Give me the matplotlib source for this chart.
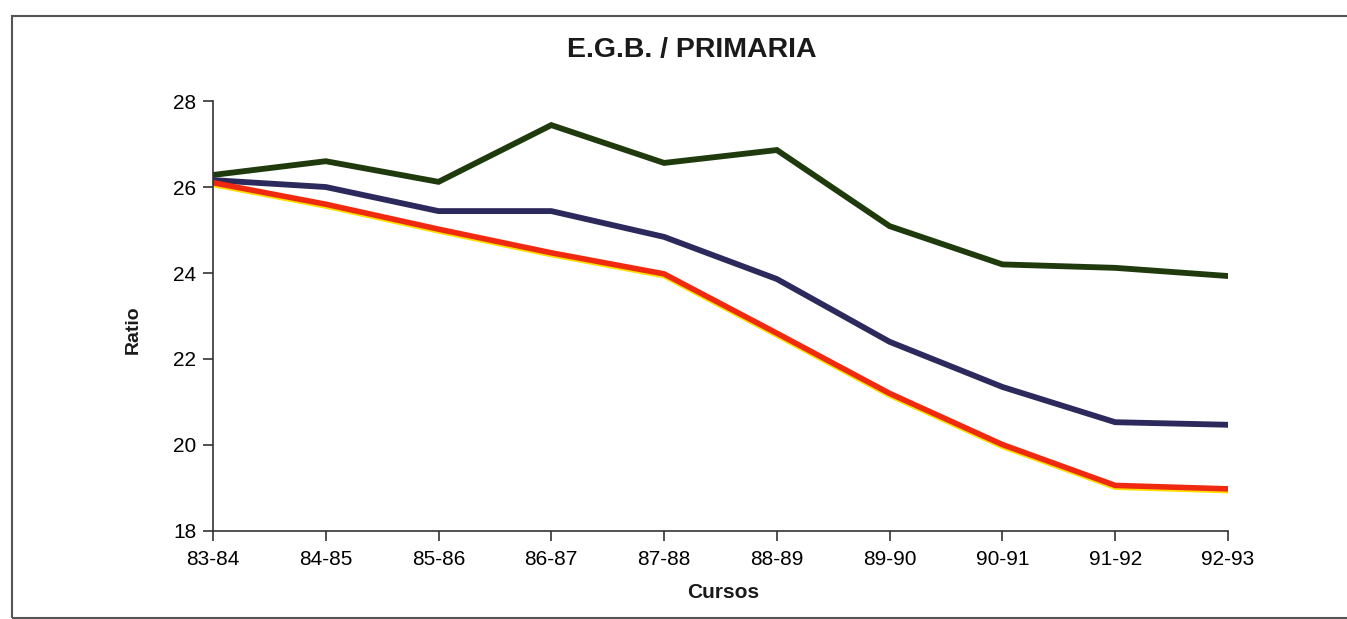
import matplotlib.pyplot as plt
import matplotlib.patheffects as pe
from matplotlib.patches import Rectangle

plt.rcParams['font.family'] = ['Liberation Sans', 'DejaVu Sans']

cursos = ['83-84', '84-85', '85-86', '86-87', '87-88',
          '88-89', '89-90', '90-91', '91-92', '92-93']
serie_verde = [26.28, 26.60, 26.12, 27.44, 26.56, 26.86, 25.09, 24.20, 24.12, 23.93]
serie_azul = [26.16, 26.00, 25.44, 25.44, 24.84, 23.86, 22.40, 21.35, 20.53, 20.47]
serie_roja = [26.10, 25.60, 25.02, 24.47, 23.98, 22.60, 21.20, 20.01, 19.06, 18.98]

fig = plt.figure(figsize=(13.47, 6.19), dpi=100)
ax = fig.add_axes([0.1581, 0.1422, 0.7535, 0.6946])

x = range(len(cursos))
ax.plot(x, serie_verde, color='#1f3a0c', lw=4.2, solid_joinstyle='miter')
ax.plot(x, serie_azul, color='#2c2a5c', lw=4.2, solid_joinstyle='miter')
ax.plot(x, serie_roja, color='#f02a10', lw=4.0, solid_joinstyle='miter',
        path_effects=[pe.SimpleLineShadow(offset=(0, -1.3), shadow_color='#ffe000', alpha=1),
                      pe.Normal()])

ax.set_xlim(0, len(cursos) - 1)
ax.set_ylim(18, 28)
ax.set_xticks(list(x))
ax.set_xticklabels(cursos)
ax.set_yticks([18, 20, 22, 24, 26, 28])
ax.tick_params(labelsize=15, length=7, width=1.2, color='#333333', pad=5)
ax.tick_params(axis='x', pad=7)
for s in ['top', 'right']:
    ax.spines[s].set_visible(False)
for s in ['left', 'bottom']:
    ax.spines[s].set_color('#333333')
    ax.spines[s].set_linewidth(1.2)

fig.text(692 / 1347, 1 - 50 / 619, 'E.G.B. / PRIMARIA', fontsize=20.5, fontweight='bold',
         ha='center', va='center', color='#1a1a1a')
fig.text(133 / 1347, 1 - 330 / 619, 'Ratio', fontsize=14, fontweight='bold',
         rotation=90, ha='center', va='center', color='#1a1a1a')
fig.text(723 / 1347, 1 - 592 / 619, 'Cursos', fontsize=15, fontweight='bold',
         ha='center', va='center', color='#1a1a1a')

# marco
fig.patches.append(Rectangle((12 / 1347, 1 / 619), 1.1, 1 - 17 / 619, transform=fig.transFigure,
                             fill=False, edgecolor='#555555', lw=1.5))

fig.savefig('out.png', dpi=100)
